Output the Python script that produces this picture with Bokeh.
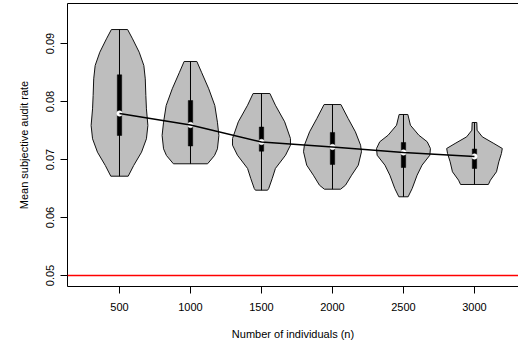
import math
from bokeh.plotting import figure
from bokeh.models import Range1d, FixedTicker, NumeralTickFormatter, LinearAxis, Span
from bokeh.embed import file_html
from bokeh.resources import INLINE

# ---- data ----
n_values = [500, 1000, 1500, 2000, 2500, 3000]
medians = [0.07793, 0.07595, 0.07302, 0.07216, 0.07121, 0.07052]
q1 = [0.07414, 0.07233, 0.07143, 0.06914, 0.06862, 0.06845]
q3 = [0.08460, 0.08017, 0.07560, 0.07466, 0.07293, 0.07181]

# violin outlines: value (top to bottom) and relative density
v500_y = [0.09241, 0.09081, 0.08850, 0.08621, 0.08391, 0.08103, 0.07874, 0.07586, 0.07357, 0.07126, 0.06897, 0.06712]
v500_d = [0.28, 0.45, 0.68, 0.84, 0.89, 0.91, 0.93, 0.98, 0.93, 0.76, 0.49, 0.30]
v1000_y = [0.08690, 0.08505, 0.08219, 0.07931, 0.07643, 0.07414, 0.07184, 0.07069, 0.06926]
v1000_d = [0.22, 0.38, 0.63, 0.84, 0.93, 0.98, 0.93, 0.83, 0.59]
v1500_y = [0.08138, 0.07936, 0.07650, 0.07362, 0.07247, 0.07074, 0.06845, 0.06672, 0.06500, 0.06471]
v1500_d = [0.29, 0.48, 0.80, 1.00, 1.00, 0.83, 0.48, 0.37, 0.25, 0.21]
v2000_y = [0.07948, 0.07707, 0.07478, 0.07247, 0.07133, 0.06902, 0.06729, 0.06557, 0.06488]
v2000_d = [0.29, 0.54, 0.79, 0.97, 1.00, 0.89, 0.66, 0.45, 0.28]
v2500_y = [0.07776, 0.07591, 0.07419, 0.07305, 0.07190, 0.07074, 0.06902, 0.06729, 0.06500, 0.06357]
v2500_d = [0.15, 0.24, 0.53, 0.82, 0.93, 0.91, 0.64, 0.47, 0.30, 0.16]
v3000_y = [0.07638, 0.07505, 0.07391, 0.07276, 0.07190, 0.07103, 0.06960, 0.06788, 0.06643, 0.06569]
v3000_d = [0.08, 0.09, 0.27, 0.67, 0.96, 0.93, 0.84, 0.76, 0.55, 0.48]

reference_rate = 0.05
y_ticks = [0.05, 0.06, 0.07, 0.08, 0.09]
x_ticks = n_values

violin_y = [v500_y, v1000_y, v1500_y, v2000_y, v2500_y, v3000_y]
violin_d = [v500_d, v1000_d, v1500_d, v2000_d, v2500_d, v3000_d]

# ---- figure ----
HALF = 204  # max half-width of a violin in x units
FONT = "Liberation Sans"

p = figure(width=518, height=347, output_backend="svg", toolbar_location=None,
           x_range=Range1d(133.8, 3310), y_range=Range1d(0.04810, 0.09690),
           min_border_left=67, min_border_right=0, min_border_top=3, min_border_bottom=61)
p.grid.visible = False
p.outline_line_color = None
p.background_fill_color = "white"
p.border_fill_color = "white"

xs, ys = [], []
for c, vy, vd in zip(n_values, violin_y, violin_d):
    right = [c + d * HALF for d in vd]
    left = [c - d * HALF for d in vd]
    xs.append(right + left[::-1])
    ys.append(vy + vy[::-1])
p.patches(xs, ys, fill_color="#BEBEBE", line_color="#111111", line_width=1)

# whiskers across full range
p.segment(x0=n_values, x1=n_values, y0=[v[-1] for v in violin_y], y1=[v[0] for v in violin_y],
          line_color="black", line_width=1)
# IQR boxes
p.vbar(x=n_values, width=31, bottom=q1, top=q3, fill_color="black", line_color="black", line_width=0.5)
# median points
p.scatter(x=n_values, y=medians, size=5.5, fill_color="white", line_color="white", line_width=0.5)
# median line
p.line(x=n_values, y=medians, line_color="black", line_width=1.5)

# reference line
p.add_layout(Span(location=reference_rate, dimension="width", line_color="#FF0000", line_width=1.3))

# axes
xa = p.xaxis[0]
ya = p.yaxis[0]
xa.ticker = FixedTicker(ticks=x_ticks)
xa.formatter = NumeralTickFormatter(format="0")
ya.ticker = FixedTicker(ticks=y_ticks)
ya.formatter = NumeralTickFormatter(format="0.00")
xa.axis_label = "Number of individuals (n)"
ya.axis_label = "Mean subjective audit rate"
ya.major_label_orientation = "parallel"

for ax in (xa, ya):
    ax.axis_line_color = "black"
    ax.axis_line_width = 1
    ax.major_tick_line_color = "black"
    ax.major_tick_out = 7
    ax.major_tick_in = 0
    ax.minor_tick_line_color = None
    ax.major_label_text_font = FONT
    ax.major_label_text_font_size = "11px"
    ax.major_label_text_color = "black"
    ax.axis_label_text_font = FONT
    ax.axis_label_text_font_size = "11px"
    ax.axis_label_text_font_style = "normal"
    ax.axis_label_text_color = "black"

xa.major_label_standoff = 9
xa.axis_label_standoff = 14
ya.major_label_standoff = 6
ya.axis_label_standoff = 14

top_axis = LinearAxis(ticker=FixedTicker(ticks=[]), major_tick_out=0, major_tick_in=0,
                      minor_tick_out=0, minor_tick_in=0, major_label_standoff=0,
                      axis_line_color="black", axis_line_width=1)
p.add_layout(top_axis, "above")

open("out.html", "w").write(file_html(p, INLINE))
